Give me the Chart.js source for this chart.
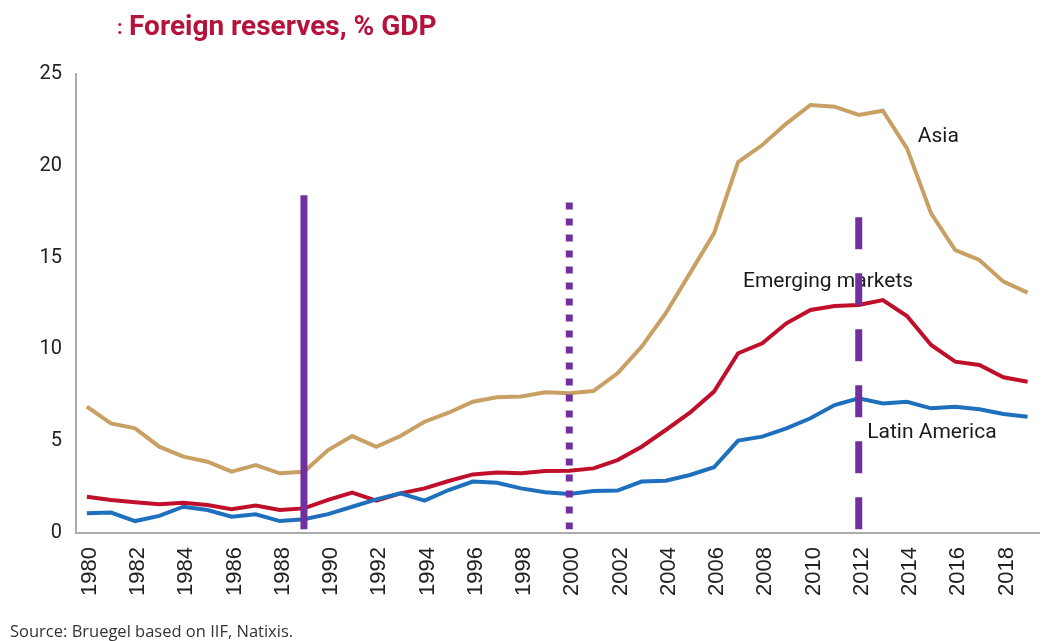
<!DOCTYPE html>
<html>
<head>
<meta charset="utf-8">
<script src="https://cdn.jsdelivr.net/npm/chart.js@4/dist/chart.umd.min.js"></script>
<style>
  html, body { margin: 0; padding: 0; background: #fff; }
  #wrap { position: relative; width: 1044px; height: 641px; overflow: hidden; }
  #chart { position: absolute; left: 0; top: 0; }
  .title { position: absolute; left: 129px; top: 9px; font: bold 28px Roboto, sans-serif; color: #B5123C;
           white-space: nowrap; }
  .colon { position: absolute; left: 117px; top: 15px; font: bold 20px Roboto, sans-serif; color: #B5123C; }
  .source { position: absolute; left: 10px; top: 619px; font: 16.5px "Open Sans", sans-serif; color: #333;
            white-space: nowrap; }
</style>
</head>
<body>
<div id="wrap">
  <canvas id="chart" width="1044" height="641"></canvas>
  <div class="colon">:</div>
  <div class="title">Foreign reserves, % GDP</div>
  <div class="source">Source: Bruegel based on IIF, Natixis.</div>
</div>
<script>
// data, % of GDP
const years = [1980,1981,1982,1983,1984,1985,1986,1987,1988,1989,
               1990,1991,1992,1993,1994,1995,1996,1997,1998,1999,
               2000,2001,2002,2003,2004,2005,2006,2007,2008,2009,
               2010,2011,2012,2013,2014,2015,2016,2017,2018,2019];
const asia = [6.88,5.97,5.70,4.70,4.16,3.88,3.34,3.70,3.25,3.34,
              4.52,5.28,4.70,5.28,6.06,6.55,7.15,7.39,7.43,7.66,
              7.61,7.73,8.70,10.15,11.97,14.14,16.32,20.2,21.13,22.3,
              23.31,23.22,22.77,23.0,20.95,17.41,15.41,14.87,13.69,13.09];
const emerging = [1.98,1.80,1.67,1.56,1.65,1.53,1.29,1.49,1.25,1.34,
                  1.80,2.20,1.76,2.16,2.43,2.83,3.19,3.30,3.25,3.38,
                  3.39,3.52,3.97,4.70,5.61,6.55,7.70,9.79,10.33,11.42,
                  12.15,12.36,12.42,12.69,11.82,10.24,9.33,9.15,8.48,8.24];
const latam = [1.07,1.11,0.65,0.93,1.43,1.25,0.89,1.02,0.65,0.75,
               1.03,1.43,1.83,2.16,1.76,2.34,2.80,2.74,2.43,2.22,
               2.12,2.29,2.31,2.80,2.85,3.16,3.58,5.03,5.25,5.70,
               6.25,6.97,7.34,7.06,7.15,6.79,6.88,6.74,6.48,6.33];
const tickYears = [1980,1982,1984,1986,1988,1990,1992,1994,1996,1998,
                   2000,2002,2004,2006,2008,2010,2012,2014,2016,2018];
const yTicks = [0,5,10,15,20,25];

// purple markers: year, bottom, top
const markerYears = [1989, 2000, 2012];
const markerBottom = [0.2, 0.2, 0.2];
const markerTop = [18.4, 18.0, 17.2];

// series labels: text, year, value
const seriesLabels = [
  ['Asia', 2014.45, 21.57],
  ['Emerging markets', 2007.2, 13.67],
  ['Latin America', 2012.35, 5.45]
];

const TAN = '#C9A063', RED = '#C00F2B', BLUE = '#1E70BC', PURPLE = '#7030A0';

function series(vals) { return years.map((y, i) => ({ x: y, y: vals[i] })); }
function marker(i, dash) {
  return {
    data: [{ x: markerYears[i], y: markerTop[i] }, { x: markerYears[i], y: markerBottom[i] }],
    borderColor: PURPLE, borderWidth: 7, borderDash: dash, borderCapStyle: 'butt',
    pointRadius: 0, order: 0
  };
}

const labelPlugin = {
  id: 'seriesLabels',
  beforeDatasetsDraw(chart) {
    const { ctx, scales: { x, y } } = chart;
    ctx.save();
    ctx.font = '21px Roboto, sans-serif';
    ctx.fillStyle = '#1a1a1a';
    ctx.textBaseline = 'middle';
    for (const [t, yr, v] of seriesLabels) ctx.fillText(t, x.getPixelForValue(yr), y.getPixelForValue(v));
    ctx.restore();
  }
};

new Chart(document.getElementById('chart'), {
  type: 'line',
  data: {
    datasets: [
      { data: series(asia), borderColor: TAN, borderWidth: 4, pointRadius: 0, order: 1 },
      { data: series(latam), borderColor: BLUE, borderWidth: 4, pointRadius: 0, order: 1 },
      { data: series(emerging), borderColor: RED, borderWidth: 4, pointRadius: 0, order: 1 },
      marker(0, []),
      marker(1, [7, 9]),
      marker(2, [32, 24])
    ]
  },
  options: {
    responsive: false,
    animation: false,
    layout: { padding: { top: 74, right: 4, bottom: 0, left: 0 } },
    plugins: { legend: { display: false }, tooltip: { enabled: false } },
    scales: {
      x: {
        type: 'linear', min: 1979.55, max: 2019.5,
        grid: { display: false, drawTicks: false },
        border: { display: true, color: '#ABABAB', width: 2 },
        afterBuildTicks: (s) => { s.ticks = tickYears.map(v => ({ value: v })); },
        afterFit: (s) => { s.height = 108; },
        ticks: {
          minRotation: 90, maxRotation: 90, padding: 14, labelOffset: 3,
          autoSkip: false, color: '#222',
          font: { family: 'Liberation Sans', size: 22 },
          callback: (v) => String(v)
        }
      },
      y: {
        min: 0, max: 25,
        grid: { display: false, drawTicks: false },
        border: { display: true, color: '#ABABAB', width: 2 },
        afterBuildTicks: (s) => { s.ticks = yTicks.map(v => ({ value: v })); },
        afterFit: (s) => { s.width = 76; },
        ticks: { padding: 14, color: '#222', font: { family: 'Roboto', size: 20 } }
      }
    }
  },
  plugins: [labelPlugin]
});
</script>
</body>
</html>
